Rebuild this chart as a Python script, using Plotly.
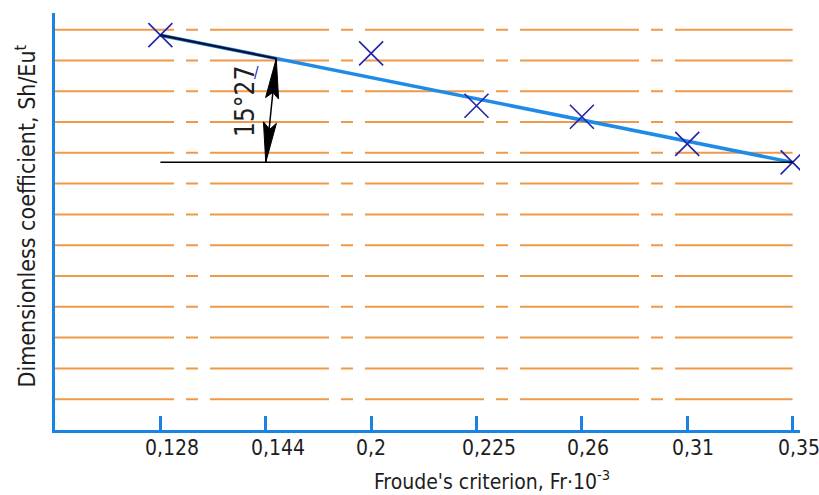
import plotly.graph_objects as go

# ---- data ----
categories = ["0,128", "0,144", "0,2", "0,225", "0,26", "0,31", "0,35"]
point_categories = ["0,128", "0,2", "0,225", "0,26", "0,31", "0,35"]
values = [12.82, 12.23, 10.53, 10.17, 9.29, 8.69]
grid_values = [1, 2, 3, 4, 5, 6, 7, 8, 9, 10, 11, 12, 13]
angle_label = "15°27"
x_title = "Froude's criterion, Fr·10<sup>-3</sup>"
y_title = "Dimensionless coefficient, Sh/Eu<sup>t</sup>"

FONT = "DejaVu Sans Condensed, Liberation Sans Narrow, sans-serif"
AXIS_BLUE = "#1a84e6"
LINE_BLUE = "#1f8be8"
MARK_BLUE = "#2222aa"
ORANGE = "#ef9a48"
TXT = "#1e1e1e"

xpos = [categories.index(c) for c in point_categories]
x0, x1 = xpos[0], xpos[-1]
y0, y1 = values[0], values[-1]
slope = (y1 - y0) / (x1 - x0)

def trend(x):
    return y0 + slope * (x - x0)

arrow_x = categories.index("0,144")
arrow_top_x = arrow_x + 0.1

fig = go.Figure()

fig.add_trace(go.Scatter(x=[x0, x1], y=[y0, y1], mode="lines",
                         line=dict(color=LINE_BLUE, width=3.5), hoverinfo="skip"))
fig.add_trace(go.Scatter(x=xpos, y=values, mode="markers",
                         marker=dict(symbol="x-thin-open", size=24, color=MARK_BLUE,
                                     line=dict(color=MARK_BLUE, width=1.6)),
                         hoverinfo="skip"))

shapes = []
for g in grid_values:
    shapes.append(dict(type="line", xref="x", yref="y", x0=-1, x1=x1, y0=g, y1=g,
                       line=dict(color=ORANGE, width=2, dash="119px,12px,12px,12px"),
                       layer="below"))
shapes.append(dict(type="line", xref="x", yref="y", x0=x0, x1=x1, y0=y1, y1=y1,
                   line=dict(color="black", width=1.5)))
shapes.append(dict(type="line", xref="x", yref="y", x0=x0, y0=y0,
                   x1=arrow_top_x, y1=trend(arrow_top_x),
                   line=dict(color="#101030", width=2.2)))
shapes.append(dict(type="line", xref="x", yref="y", x0=arrow_x, y0=y1,
                   x1=arrow_top_x, y1=trend(arrow_top_x),
                   line=dict(color="black", width=1.5)))
shapes.append(dict(type="path", xref="x", yref="y", xsizemode="pixel", ysizemode="pixel",
                   xanchor=arrow_top_x, yanchor=trend(arrow_top_x),
                   path="M 0 0 L 2.3 -40.5 L -3.5 -34 L -10.7 -39.1 Z",
                   fillcolor="black", line=dict(color="black", width=1)))
shapes.append(dict(type="path", xref="x", yref="y", xsizemode="pixel", ysizemode="pixel",
                   xanchor=arrow_x, yanchor=y1,
                   path="M 0 0 L 10.7 39.1 L 4 33 L -2.3 40.5 Z",
                   fillcolor="black", line=dict(color="black", width=1)))

annotations = []
for i, c in enumerate(categories):
    annotations.append(dict(x=i, y=0, xref="x", yref="paper", text=c, showarrow=False,
                            xanchor="left", yanchor="middle", xshift=-17, yshift=-18,
                            font=dict(family=FONT, size=21, color=TXT)))
annotations.append(dict(x=0.586, y=0, xref="paper", yref="paper", text=x_title,
                        showarrow=False, xanchor="center", yanchor="middle", yshift=-50,
                        font=dict(family=FONT, size=21, color=TXT)))
annotations.append(dict(x=0, y=0.5, xref="paper", yref="paper", text=y_title,
                        showarrow=False, xanchor="center", yanchor="middle", xshift=-30,
                        yshift=5, textangle=-90,
                        font=dict(family=FONT, size=23, color=TXT)))
annotations.append(dict(x=arrow_x, y=(y1 + trend(arrow_top_x)) / 2 + 0.3, xref="x", yref="y",
                        text=angle_label, showarrow=False, textangle=-90,
                        xanchor="center", yanchor="middle", xshift=-21,
                        font=dict(family=FONT, size=26, color=TXT)))
annotations.append(dict(x=arrow_x, y=trend(arrow_top_x), xref="x", yref="y",
                        text="/", showarrow=False, xanchor="center", yanchor="middle",
                        xshift=-9, yshift=-15,
                        font=dict(family=FONT, size=15, color=MARK_BLUE)))

fig.update_layout(
    width=819, height=495,
    margin=dict(l=55, r=19, t=13, b=65),
    paper_bgcolor="white", plot_bgcolor="white",
    showlegend=False,
    shapes=shapes, annotations=annotations,
    xaxis=dict(range=[-1, 6.07], tickmode="array", tickvals=list(range(len(categories))),
               showticklabels=False, ticks="inside", ticklen=14, tickwidth=3,
               tickcolor=AXIS_BLUE, showgrid=False, zeroline=False,
               showline=True, linecolor=AXIS_BLUE, linewidth=3),
    yaxis=dict(range=[0, 13.54], showticklabels=False, ticks="", showgrid=False,
               zeroline=False, showline=True, linecolor=AXIS_BLUE, linewidth=3),
)

fig.write_html("out.html", config={"displayModeBar": False},
               post_script="document.body.style.margin='0px';document.body.style.padding='0px';")
